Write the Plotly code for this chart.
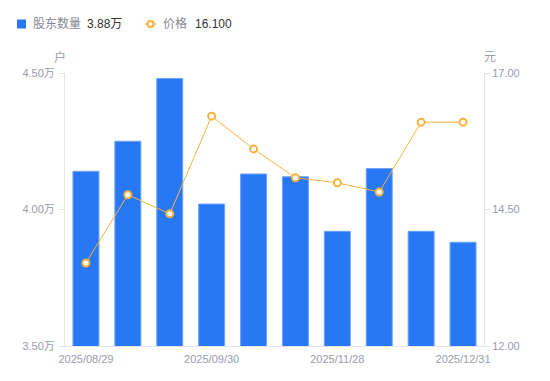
import plotly.graph_objects as go

dates = ["2025/08/29", "2025/09/10", "2025/09/19", "2025/09/30", "2025/10/20",
         "2025/10/31", "2025/11/28", "2025/12/10", "2025/12/19", "2025/12/31"]
holders_wan = [4.14, 4.25, 4.48, 4.02, 4.13, 4.12, 3.92, 4.15, 3.92, 3.88]
prices = [13.52, 14.77, 14.42, 16.21, 15.61, 15.08, 14.99, 14.82, 16.10, 16.10]
x_tick_labels = ["2025/08/29", "2025/09/30", "2025/11/28", "2025/12/31"]
left_ticks = [3.5, 4.0, 4.5]
left_tick_text = ["3.50万", "4.00万", "4.50万"]
right_ticks = [12.0, 14.5, 17.0]
legend_names = ["股东数量", "价格"]
legend_values = ["3.88万", "16.100"]

BLUE = "#2878F5"
ORANGE = "#F8B23F"
TICK = "#9A9CA8"
AXIS = "#E3E5EA"
FONT = "Liberation Sans, Arial, Noto Sans CJK SC"

# page body has an 8px default margin; compensate so the plot lands where intended
OFF = 8
W, H = 550 - OFF, 381 - OFF
L, T = 65 - OFF, 73 - OFF
PW, PH = 419, 273
R, B = W - L - PW, H - T - PH


def px(x):
    return (x - OFF - L) / PW


def py(y):
    return (T + PH - (y - OFF)) / PH


fig = go.Figure()
fig.add_trace(go.Bar(
    x=dates, y=holders_wan, yaxis="y", name=legend_names[0],
    marker=dict(color=BLUE, line=dict(color="#6FA3F7", width=1)),
))
fig.add_trace(go.Scatter(
    x=dates, y=prices, yaxis="y2", mode="lines+markers", name=legend_names[1],
    line=dict(color=ORANGE, width=1),
    marker=dict(symbol="circle", size=7, color="white", line=dict(color=ORANGE, width=2)),
))

shapes = [
    dict(type="rect", xref="paper", yref="paper", x0=px(17), x1=px(26), y0=py(28.5), y1=py(19.5),
         fillcolor=BLUE, line=dict(width=0)),
    dict(type="line", xref="paper", yref="paper", x0=px(145), x1=px(156), y0=py(24), y1=py(24),
         line=dict(color=ORANGE, width=1.5)),
    dict(type="circle", xref="paper", yref="paper", x0=px(147.5), x1=px(153.5), y0=py(27), y1=py(21),
         fillcolor="white", line=dict(color=ORANGE, width=2)),
]

annotations = [
    dict(text=legend_names[0], x=px(31), y=py(24), xanchor="left", yanchor="middle",
         font=dict(size=12, color="#86888F", family=FONT)),
    dict(text=legend_values[0], x=px(85), y=py(24), xanchor="left", yanchor="middle",
         font=dict(size=12, color="#333333", family=FONT)),
    dict(text=legend_names[1], x=px(161), y=py(24), xanchor="left", yanchor="middle",
         font=dict(size=12, color="#86888F", family=FONT)),
    dict(text=legend_values[1], x=px(193), y=py(24), xanchor="left", yanchor="middle",
         font=dict(size=12, color="#333333", family=FONT)),
    dict(text="户", x=px(60), y=py(57), xanchor="center", yanchor="middle",
         font=dict(size=12, color=TICK, family=FONT)),
    dict(text="元", x=px(490), y=py(57), xanchor="center", yanchor="middle",
         font=dict(size=12, color=TICK, family=FONT)),
]
for a in annotations:
    a.update(xref="paper", yref="paper", showarrow=False)

fig.update_layout(
    width=W, height=H,
    margin=dict(l=L, r=R, t=T, b=B, autoexpand=False),
    plot_bgcolor="white", paper_bgcolor="white",
    font=dict(family=FONT, size=12, color="#333"),
    bargap=0.38,
    showlegend=False,
    xaxis=dict(type="category", range=[-0.5, len(dates) - 0.5], tickmode="array",
               tickvals=x_tick_labels, ticktext=x_tick_labels, showgrid=False, showline=True,
               linecolor=AXIS, linewidth=1, ticks="", tickfont=dict(size=11, color=TICK),
               ticklabelstandoff=3, zeroline=False, automargin=False),
    yaxis=dict(range=[3.5, 4.5], tickmode="array", tickvals=left_ticks, ticktext=left_tick_text,
               showgrid=False, showline=True, linecolor=AXIS, linewidth=1,
               ticks="outside", ticklen=5, tickcolor=AXIS, ticklabelstandoff=2,
               tickfont=dict(size=11, color=TICK), zeroline=False, automargin=False),
    yaxis2=dict(range=[12, 17], tickvals=right_ticks, tickformat=".2f",
                overlaying="y", side="right", showgrid=False, showline=True,
                linecolor=AXIS, linewidth=1, ticks="outside", ticklen=5, tickcolor=AXIS,
                tickfont=dict(size=11, color=TICK), zeroline=False, automargin=False),
    shapes=shapes,
    annotations=annotations,
)

fig.write_html("out.html")
